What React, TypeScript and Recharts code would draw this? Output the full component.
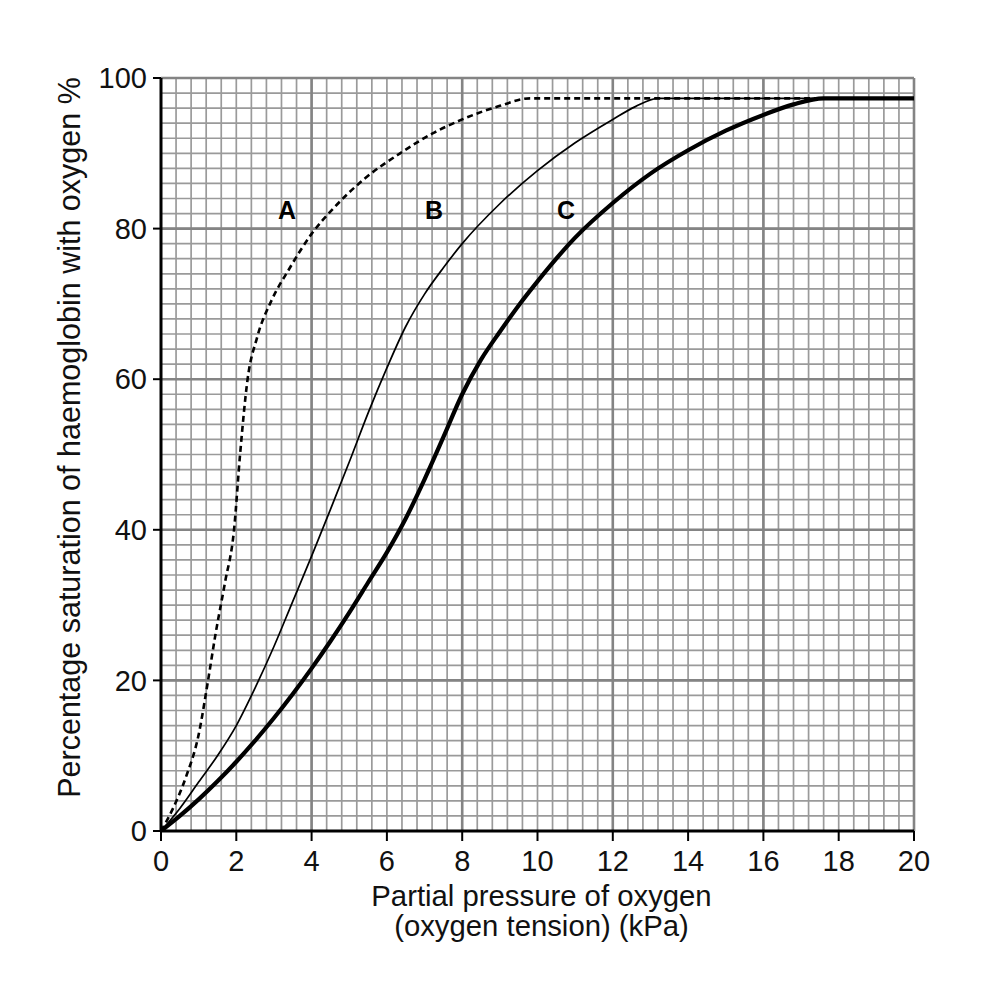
import React from 'react';
import { LineChart, Line, XAxis, YAxis, CartesianGrid, ReferenceDot } from 'recharts';

const curveAX = [0, 0.3, 0.65, 1.0, 1.25, 1.45, 1.7, 1.94, 2.1, 2.3, 2.55, 2.94, 3.4, 4.0, 4.6, 5.4, 6.35, 7.2, 8.0, 9.0, 9.8, 20];
const curveAY = [0, 2.8, 7, 12.8, 20, 26.2, 33, 40, 50, 60, 65.5, 70.5, 74.6, 79.3, 82.8, 86.6, 90, 92.6, 94.5, 96.3, 97.3, 97.3];

const curveBX = [0, 0.5, 1.0, 1.5, 2.0, 2.5, 3.0, 3.5, 4.0, 4.5, 5.0, 5.5, 6.0, 6.5, 7.0, 7.5, 8.0, 9.0, 10.0, 11.0, 12.0, 12.6, 13.2, 20];
const curveBY = [0, 3, 6.5, 10, 14, 19, 24.5, 30.5, 36.5, 42.7, 49, 55.5, 61.5, 67, 71.3, 74.8, 78, 83.3, 87.7, 91.4, 94.5, 96.2, 97.3, 97.3];

const curveCX = [0, 0.5, 1.0, 1.5, 2.0, 2.5, 3.0, 3.5, 4.0, 4.5, 5.0, 5.5, 6.0, 6.5, 7.0, 7.5, 8.0, 8.5, 9.0, 9.5, 10, 11, 12, 13, 14, 15, 16, 16.8, 17.6, 20];
const curveCY = [0, 2, 4.2, 6.6, 9.2, 12, 15, 18.2, 21.6, 25.2, 29, 33, 37, 41.5, 46.7, 52.3, 58, 62.6, 66.3, 69.8, 73, 78.8, 83.4, 87.3, 90.4, 93, 95.1, 96.5, 97.3, 97.3];

const xDomain = [0, 20];
const yDomain = [0, 100];
const xTicks = [0, 2, 4, 6, 8, 10, 12, 14, 16, 18, 20];
const yTicks = [0, 20, 40, 60, 80, 100];
const xMinorGrid = Array.from({ length: 51 }, (_, i) => +(i * 0.4).toFixed(1));
const yMinorGrid = Array.from({ length: 51 }, (_, i) => i * 2);
const xMajorGrid = [4, 8, 12, 16, 20];
const yMajorGrid = [20, 40, 60, 80, 100];

const curveLabels = [
  { name: 'A', x: 3.35, y: 82.5 },
  { name: 'B', x: 7.25, y: 82.5 },
  { name: 'C', x: 10.76, y: 82.5 },
];

const xTitle1 = 'Partial pressure of oxygen';
const xTitle2 = '(oxygen tension) (kPa)';
const yTitle = 'Percentage saturation of haemoglobin with oxygen %';

const toPoints = (xs: number[], ys: number[]) => xs.map((x, i) => ({ x, y: ys[i] }));
const dataA = toPoints(curveAX, curveAY);
const dataB = toPoints(curveBX, curveBY);
const dataC = toPoints(curveCX, curveCY);

const FONT = '"Liberation Sans", Arial, sans-serif';

const makeV = (vals: number[]) => (args: any) => {
  const { offset } = args;
  return vals.map(
    (v) => offset.left + ((v - xDomain[0]) / (xDomain[1] - xDomain[0])) * offset.width
  );
};
const makeH = (vals: number[]) => (args: any) => {
  const { offset } = args;
  return vals.map(
    (v) => offset.top + (1 - (v - yDomain[0]) / (yDomain[1] - yDomain[0])) * offset.height
  );
};

export default function App() {
  return (
    <div style={{ width: 990, height: 980, background: '#fff' }}>
      <LineChart
        width={990}
        height={980}
        margin={{ top: 70, right: 84, left: 93, bottom: 127 }}
      >
        <CartesianGrid
          stroke="#9a9a9a"
          strokeWidth={1.7}
          verticalCoordinatesGenerator={makeV(xMinorGrid)}
          horizontalCoordinatesGenerator={makeH(yMinorGrid)}
        />
        <CartesianGrid
          stroke="#848484"
          strokeWidth={2.6}
          verticalCoordinatesGenerator={makeV(xMajorGrid)}
          horizontalCoordinatesGenerator={makeH(yMajorGrid)}
        />
        <XAxis
          type="number"
          dataKey="x"
          domain={xDomain}
          ticks={xTicks}
          interval={0}
          allowDataOverflow
          height={30}
          tickSize={10}
          tickMargin={9}
          axisLine={{ stroke: '#000', strokeWidth: 3 }}
          tickLine={{ stroke: '#000', strokeWidth: 2 }}
          tick={{ fill: '#111', fontSize: 29, fontFamily: FONT }}
          label={{
            content: (props: any) => {
              const vb = props.viewBox || {};
              const cx = vb.x + vb.width / 2;
              return (
                <g>
                  <text x={cx + 4} y={vb.y + 75} textAnchor="middle" fontSize={29.3} fontFamily={FONT} fill="#111">
                    {xTitle1}
                  </text>
                  <text x={cx + 4} y={vb.y + 105} textAnchor="middle" fontSize={29.3} fontFamily={FONT} fill="#111">
                    {xTitle2}
                  </text>
                </g>
              );
            },
          }}
        />
        <YAxis
          type="number"
          dataKey="y"
          domain={yDomain}
          ticks={yTicks}
          interval={0}
          allowDataOverflow
          width={60}
          tickSize={8}
          tickMargin={6}
          axisLine={{ stroke: '#000', strokeWidth: 3 }}
          tickLine={{ stroke: '#000', strokeWidth: 2 }}
          tick={{ fill: '#111', fontSize: 29, fontFamily: FONT }}
          label={{
            content: (props: any) => {
              const vb = props.viewBox || {};
              const cy = vb.y + vb.height / 2 - 17;
              const cx = 61;
              return (
                <text
                  x={cx}
                  y={cy}
                  textAnchor="middle"
                  dominantBaseline="central"
                  transform={`rotate(-90 ${cx} ${cy})`}
                  fontSize={30.5}
                  fontFamily={FONT}
                  fill="#111"
                >
                  {yTitle}
                </text>
              );
            },
          }}
        />
        <Line
          data={dataA}
          dataKey="y"
          type="monotone"
          stroke="#000"
          strokeWidth={2.6}
          strokeDasharray="6 4"
          dot={false}
          activeDot={false}
          isAnimationActive={false}
        />
        <Line
          data={dataB}
          dataKey="y"
          type="monotone"
          stroke="#000"
          strokeWidth={1.7}
          dot={false}
          activeDot={false}
          isAnimationActive={false}
        />
        <Line
          data={dataC}
          dataKey="y"
          type="monotone"
          stroke="#000"
          strokeWidth={4.2}
          dot={false}
          activeDot={false}
          isAnimationActive={false}
        />
        {curveLabels.map((l) => (
          <ReferenceDot
            key={l.name}
            x={l.x}
            y={l.y}
            r={0}
            fill="none"
            stroke="none"
            label={{
              value: l.name,
              position: 'center',
              fontSize: 25,
              fontWeight: 'bold',
              fontFamily: FONT,
              fill: '#000',
            }}
          />
        ))}
      </LineChart>
    </div>
  );
}
